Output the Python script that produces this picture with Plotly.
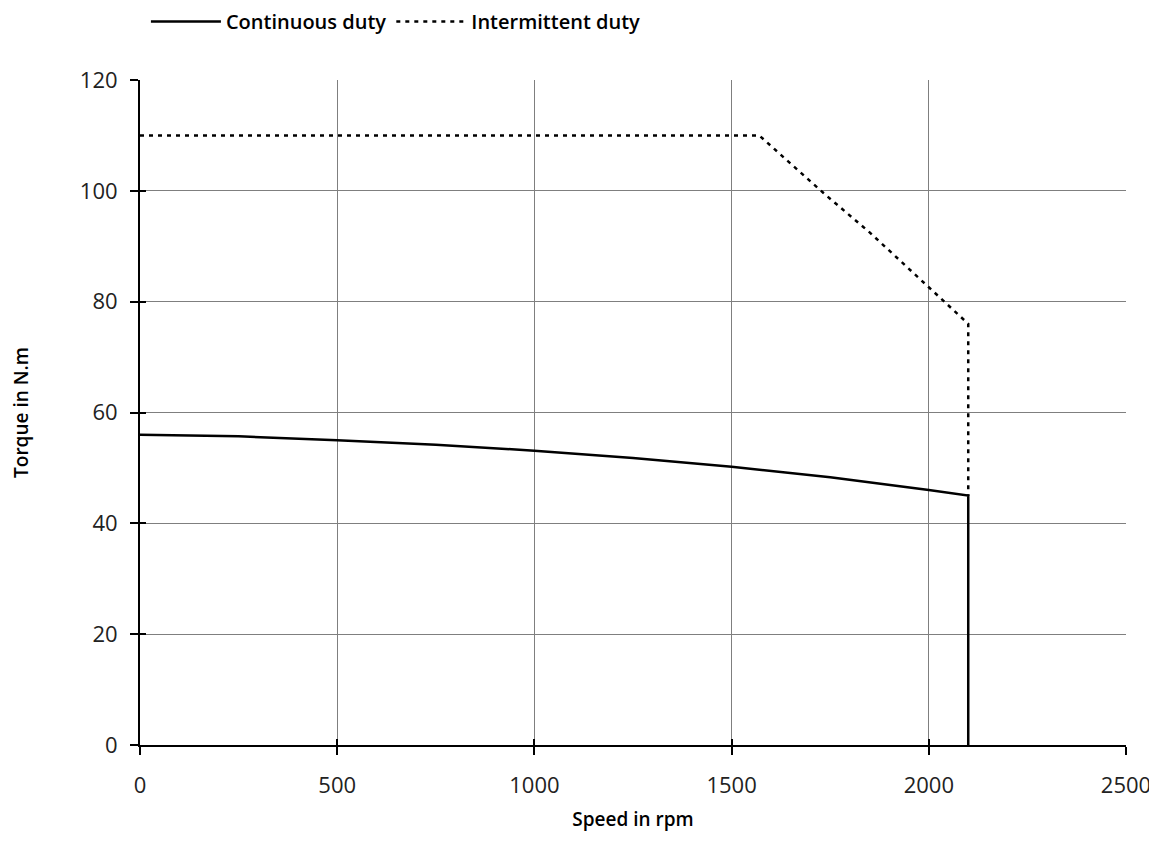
import plotly.graph_objects as go

# Continuous duty curve (rpm, N.m)
cont_speed = [0, 150, 250, 500, 750, 1000, 1250, 1500, 1750, 2000, 2100, 2100]
cont_torque = [56.0, 55.9, 55.7, 55.0, 54.2, 53.1, 51.8, 50.2, 48.3, 46.0, 45.0, 0]

# Intermittent duty curve (rpm, N.m)
int_speed = [0, 1570, 1733, 1850, 2000, 2100, 2100]
int_torque = [110, 110, 99.6, 92.5, 82.6, 76.0, 45.0]

x_ticks = [0, 500, 1000, 1500, 2000, 2500]
y_ticks = [0, 20, 40, 60, 80, 100, 120]

FONT = "Open Sans"

fig = go.Figure()
fig.add_trace(go.Scatter(x=cont_speed, y=cont_torque, mode="lines",
                         name="Continuous duty",
                         line=dict(color="black", width=2.5)))
fig.add_trace(go.Scatter(x=int_speed, y=int_torque, mode="lines",
                         name="Intermittent duty",
                         line=dict(color="black", width=2.5, dash="4px,5px")))

axis_common = dict(showgrid=True, gridcolor="#7f7f7f", gridwidth=1,
                   showline=True, linecolor="black", linewidth=2,
                   ticks="outside", ticklen=8, tickwidth=2, tickcolor="black",
                   zeroline=False, automargin=False,
                   tickfont=dict(family=FONT, size=22, color="#222"))

fig.update_layout(
    width=1157, height=867,
    margin=dict(l=132, r=39, t=72, b=130, autoexpand=False),
    paper_bgcolor="white", plot_bgcolor="white",
    showlegend=True,
    legend=dict(orientation="h", x=0.006, xanchor="left", y=1.088, yanchor="middle",
                font=dict(family=FONT, size=20, color="black", weight=600),
                itemwidth=70, tracegroupgap=0, bgcolor="rgba(0,0,0,0)"),
    xaxis=dict(range=[0, 2500], tickvals=x_ticks, ticktext=[str(v) for v in x_ticks],
               ticklabelstandoff=12,
               title=dict(text="Speed in rpm", standoff=14,
                          font=dict(family=FONT, size=19, color="black", weight=600)),
               **axis_common),
    yaxis=dict(range=[0, 120], tickvals=y_ticks, ticktext=[str(v) for v in y_ticks],
               ticklabelstandoff=8,
               title=dict(text="Torque in N.m", standoff=49,
                          font=dict(family=FONT, size=19, color="black", weight=600)),
               **axis_common),
    xaxis2=dict(overlaying="x", anchor="y", side="bottom", range=[0, 2500],
                tickvals=x_ticks, showticklabels=False, showgrid=False,
                ticks="inside", ticklen=6, tickwidth=2, tickcolor="black",
                showline=False, zeroline=False, automargin=False),
    yaxis2=dict(overlaying="y", anchor="x", side="left", range=[0, 120],
                tickvals=y_ticks, showticklabels=False, showgrid=False,
                ticks="inside", ticklen=6, tickwidth=2, tickcolor="black",
                showline=False, zeroline=False, automargin=False),
)

# invisible trace so the overlay tick axes are rendered
fig.add_trace(go.Scatter(x=[None], y=[None], xaxis="x2", yaxis="y2",
                         showlegend=False, hoverinfo="skip"))

fig.write_html("out.html")
